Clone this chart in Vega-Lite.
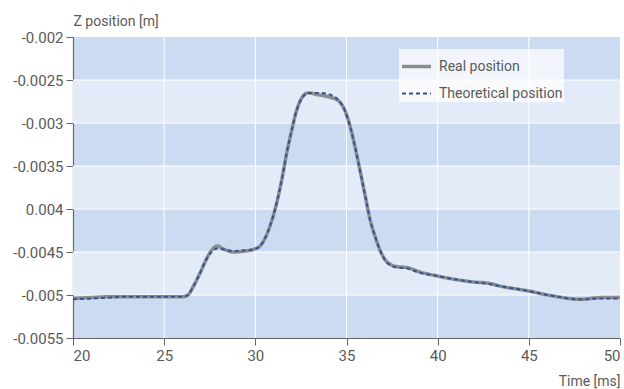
{
  "$schema": "https://vega.github.io/schema/vega-lite/v6.json",
  "width": 547,
  "height": 301,
  "autosize": {"type": "none"},
  "padding": {"left": 73, "top": 37, "right": 4, "bottom": 51},
  "background": "white",
  "config": {
    "font": "Roboto, sans-serif",
    "view": {"fill": "#cbdcf2", "stroke": null},
    "axis": {
      "grid": false,
      "domainColor": "#666666",
      "tickColor": "#666666",
      "domainWidth": 1.2,
      "tickSize": 7,
      "labelPadding": 3,
      "labelColor": "#5a5a5a",
      "labelFontSize": 15,
      "titleColor": "#5a5a5a",
      "titleFontSize": 14,
      "titleFontWeight": "normal"
    }
  },
  "datasets": {
    "bands": [
      {"lo": -0.0025, "hi": -0.003},
      {"lo": -0.0035, "hi": -0.004},
      {"lo": -0.0045, "hi": -0.005}
    ],
    "gridx": [{"t": 25}, {"t": 30}, {"t": 35}, {"t": 40}, {"t": 45}],
    "gridy": [{"z": -0.0025}, {"z": -0.003}, {"z": -0.0035}, {"z": -0.004}, {"z": -0.0045}, {"z": -0.005}],
    "curves": [
      {"series": "Real position", "t": 20, "z": -0.00504},
      {"series": "Real position", "t": 21, "z": -0.00503},
      {"series": "Real position", "t": 22, "z": -0.00502},
      {"series": "Real position", "t": 23, "z": -0.00502},
      {"series": "Real position", "t": 24, "z": -0.00502},
      {"series": "Real position", "t": 25, "z": -0.00502},
      {"series": "Real position", "t": 26, "z": -0.00502},
      {"series": "Real position", "t": 26.3, "z": -0.005},
      {"series": "Real position", "t": 26.6, "z": -0.0049},
      {"series": "Real position", "t": 27.0, "z": -0.00473},
      {"series": "Real position", "t": 27.3, "z": -0.00459},
      {"series": "Real position", "t": 27.6, "z": -0.00448},
      {"series": "Real position", "t": 27.9, "z": -0.00443},
      {"series": "Real position", "t": 28.3, "z": -0.00447},
      {"series": "Real position", "t": 28.8, "z": -0.0045},
      {"series": "Real position", "t": 29.4, "z": -0.00449},
      {"series": "Real position", "t": 29.9, "z": -0.00447},
      {"series": "Real position", "t": 30.26, "z": -0.00443},
      {"series": "Real position", "t": 30.8, "z": -0.0042},
      {"series": "Real position", "t": 31.17, "z": -0.00393},
      {"series": "Real position", "t": 31.45, "z": -0.00366},
      {"series": "Real position", "t": 31.72, "z": -0.00335},
      {"series": "Real position", "t": 32.0, "z": -0.00308},
      {"series": "Real position", "t": 32.27, "z": -0.00285},
      {"series": "Real position", "t": 32.54, "z": -0.00271},
      {"series": "Real position", "t": 32.9, "z": -0.00265},
      {"series": "Real position", "t": 33.4, "z": -0.00267},
      {"series": "Real position", "t": 33.9, "z": -0.00269},
      {"series": "Real position", "t": 34.55, "z": -0.00274},
      {"series": "Real position", "t": 34.9, "z": -0.00285},
      {"series": "Real position", "t": 35.2, "z": -0.00304},
      {"series": "Real position", "t": 35.47, "z": -0.00328},
      {"series": "Real position", "t": 35.74, "z": -0.00355},
      {"series": "Real position", "t": 36.0, "z": -0.00382},
      {"series": "Real position", "t": 36.3, "z": -0.00413},
      {"series": "Real position", "t": 36.57, "z": -0.00432},
      {"series": "Real position", "t": 36.84, "z": -0.00448},
      {"series": "Real position", "t": 37.2, "z": -0.00461},
      {"series": "Real position", "t": 37.75, "z": -0.00467},
      {"series": "Real position", "t": 38.3, "z": -0.00468},
      {"series": "Real position", "t": 39.0, "z": -0.00473},
      {"series": "Real position", "t": 40.0, "z": -0.00478},
      {"series": "Real position", "t": 41.0, "z": -0.00482},
      {"series": "Real position", "t": 42.0, "z": -0.00485},
      {"series": "Real position", "t": 42.7, "z": -0.00486},
      {"series": "Real position", "t": 43.5, "z": -0.0049},
      {"series": "Real position", "t": 44.9, "z": -0.00495},
      {"series": "Real position", "t": 46.3, "z": -0.00501},
      {"series": "Real position", "t": 47.8, "z": -0.00505},
      {"series": "Real position", "t": 49.0, "z": -0.00503},
      {"series": "Real position", "t": 50.0, "z": -0.00503},
      {"series": "Theoretical position", "t": 20, "z": -0.00505},
      {"series": "Theoretical position", "t": 21, "z": -0.00504},
      {"series": "Theoretical position", "t": 22, "z": -0.00503},
      {"series": "Theoretical position", "t": 23, "z": -0.00502},
      {"series": "Theoretical position", "t": 24, "z": -0.00502},
      {"series": "Theoretical position", "t": 25, "z": -0.00502},
      {"series": "Theoretical position", "t": 26, "z": -0.00502},
      {"series": "Theoretical position", "t": 26.3, "z": -0.005},
      {"series": "Theoretical position", "t": 26.6, "z": -0.0049},
      {"series": "Theoretical position", "t": 27.0, "z": -0.00473},
      {"series": "Theoretical position", "t": 27.3, "z": -0.00459},
      {"series": "Theoretical position", "t": 27.6, "z": -0.0045},
      {"series": "Theoretical position", "t": 27.9, "z": -0.00446},
      {"series": "Theoretical position", "t": 28.3, "z": -0.00447},
      {"series": "Theoretical position", "t": 28.8, "z": -0.00449},
      {"series": "Theoretical position", "t": 29.4, "z": -0.00448},
      {"series": "Theoretical position", "t": 29.9, "z": -0.00447},
      {"series": "Theoretical position", "t": 30.26, "z": -0.00443},
      {"series": "Theoretical position", "t": 30.8, "z": -0.0042},
      {"series": "Theoretical position", "t": 31.17, "z": -0.00393},
      {"series": "Theoretical position", "t": 31.45, "z": -0.00366},
      {"series": "Theoretical position", "t": 31.72, "z": -0.00335},
      {"series": "Theoretical position", "t": 32.0, "z": -0.00308},
      {"series": "Theoretical position", "t": 32.27, "z": -0.00285},
      {"series": "Theoretical position", "t": 32.54, "z": -0.00272},
      {"series": "Theoretical position", "t": 32.9, "z": -0.00265},
      {"series": "Theoretical position", "t": 33.4, "z": -0.00265},
      {"series": "Theoretical position", "t": 33.9, "z": -0.00266},
      {"series": "Theoretical position", "t": 34.55, "z": -0.00273},
      {"series": "Theoretical position", "t": 34.9, "z": -0.00285},
      {"series": "Theoretical position", "t": 35.2, "z": -0.00304},
      {"series": "Theoretical position", "t": 35.47, "z": -0.00328},
      {"series": "Theoretical position", "t": 35.74, "z": -0.00355},
      {"series": "Theoretical position", "t": 36.0, "z": -0.00382},
      {"series": "Theoretical position", "t": 36.3, "z": -0.00413},
      {"series": "Theoretical position", "t": 36.57, "z": -0.00432},
      {"series": "Theoretical position", "t": 36.84, "z": -0.00448},
      {"series": "Theoretical position", "t": 37.2, "z": -0.00462},
      {"series": "Theoretical position", "t": 37.75, "z": -0.00468},
      {"series": "Theoretical position", "t": 38.3, "z": -0.00469},
      {"series": "Theoretical position", "t": 39.0, "z": -0.00474},
      {"series": "Theoretical position", "t": 40.0, "z": -0.00478},
      {"series": "Theoretical position", "t": 41.0, "z": -0.00482},
      {"series": "Theoretical position", "t": 42.0, "z": -0.00485},
      {"series": "Theoretical position", "t": 42.7, "z": -0.00487},
      {"series": "Theoretical position", "t": 43.5, "z": -0.0049},
      {"series": "Theoretical position", "t": 44.9, "z": -0.00495},
      {"series": "Theoretical position", "t": 46.3, "z": -0.00501},
      {"series": "Theoretical position", "t": 47.8, "z": -0.00505},
      {"series": "Theoretical position", "t": 49.0, "z": -0.00504},
      {"series": "Theoretical position", "t": 50.0, "z": -0.00504}
    ]
  },
  "layer": [
    {
      "data": {"name": "bands"},
      "mark": {"type": "rect", "color": "#e3ebf8"},
      "encoding": {
        "y": {"field": "lo", "type": "quantitative", "scale": {"domain": [-0.0055, -0.002], "nice": false, "zero": false},
          "axis": {
            "values": [-0.002, -0.0025, -0.003, -0.0035, -0.004, -0.0045, -0.005, -0.0055],
            "labelExpr": "abs(datum.value + 0.004) < 1e-9 ? '0.004' : (datum.value < 0 ? '-' : '') + format(abs(datum.value), '~r')",
            "title": "Z position [m]",
            "titleAngle": 0,
            "titleAlign": "left",
            "titleBaseline": "alphabetic",
            "titleX": 0,
            "titleY": -12
          }
        },
        "y2": {"field": "hi"},
        "x": {"value": 0},
        "x2": {"value": 547}
      }
    },
    {
      "data": {"name": "gridx"},
      "mark": {"type": "rule", "color": "white", "strokeWidth": 1},
      "encoding": {"x": {"field": "t", "type": "quantitative"}}
    },
    {
      "data": {"name": "gridy"},
      "mark": {"type": "rule", "color": "white", "strokeWidth": 1},
      "encoding": {"y": {"field": "z", "type": "quantitative"}}
    },
    {
      "data": {"name": "curves"},
      "mark": {"type": "line", "interpolate": "monotone"},
      "encoding": {
        "x": {"field": "t", "type": "quantitative", "scale": {"domain": [20, 50], "nice": false, "zero": false},
          "axis": {
            "values": [20, 25, 30, 35, 40, 45, 50],
            "title": "Time [ms]",
            "titleAlign": "right",
            "titleAnchor": "end",
            "titleBaseline": "alphabetic",
            "titleX": 547,
            "titleY": 47
          }
        },
        "y": {"field": "z", "type": "quantitative"},
        "color": {"field": "series", "type": "nominal",
          "scale": {"domain": ["Real position", "Theoretical position"], "range": ["#8c8c8c", "#2f5597"]},
          "legend": {
            "title": null,
            "orient": "none",
            "legendX": 326,
            "legendY": 12,
            "fillColor": "rgba(255,255,255,0.75)",
            "padding": 1,
            "symbolType": "stroke",
            "symbolSize": 840,
            "labelFontSize": 14,
            "labelColor": "#5a5a5a",
            "labelOffset": 6,
            "rowPadding": 4,
            "offset": 0
          }
        },
        "strokeDash": {"field": "series", "type": "nominal",
          "scale": {"domain": ["Real position", "Theoretical position"], "range": [[1, 0], [4, 3]]}
        },
        "strokeWidth": {"field": "series", "type": "nominal",
          "scale": {"domain": ["Real position", "Theoretical position"], "range": [3.5, 2]}
        }
      }
    }
  ]
}
